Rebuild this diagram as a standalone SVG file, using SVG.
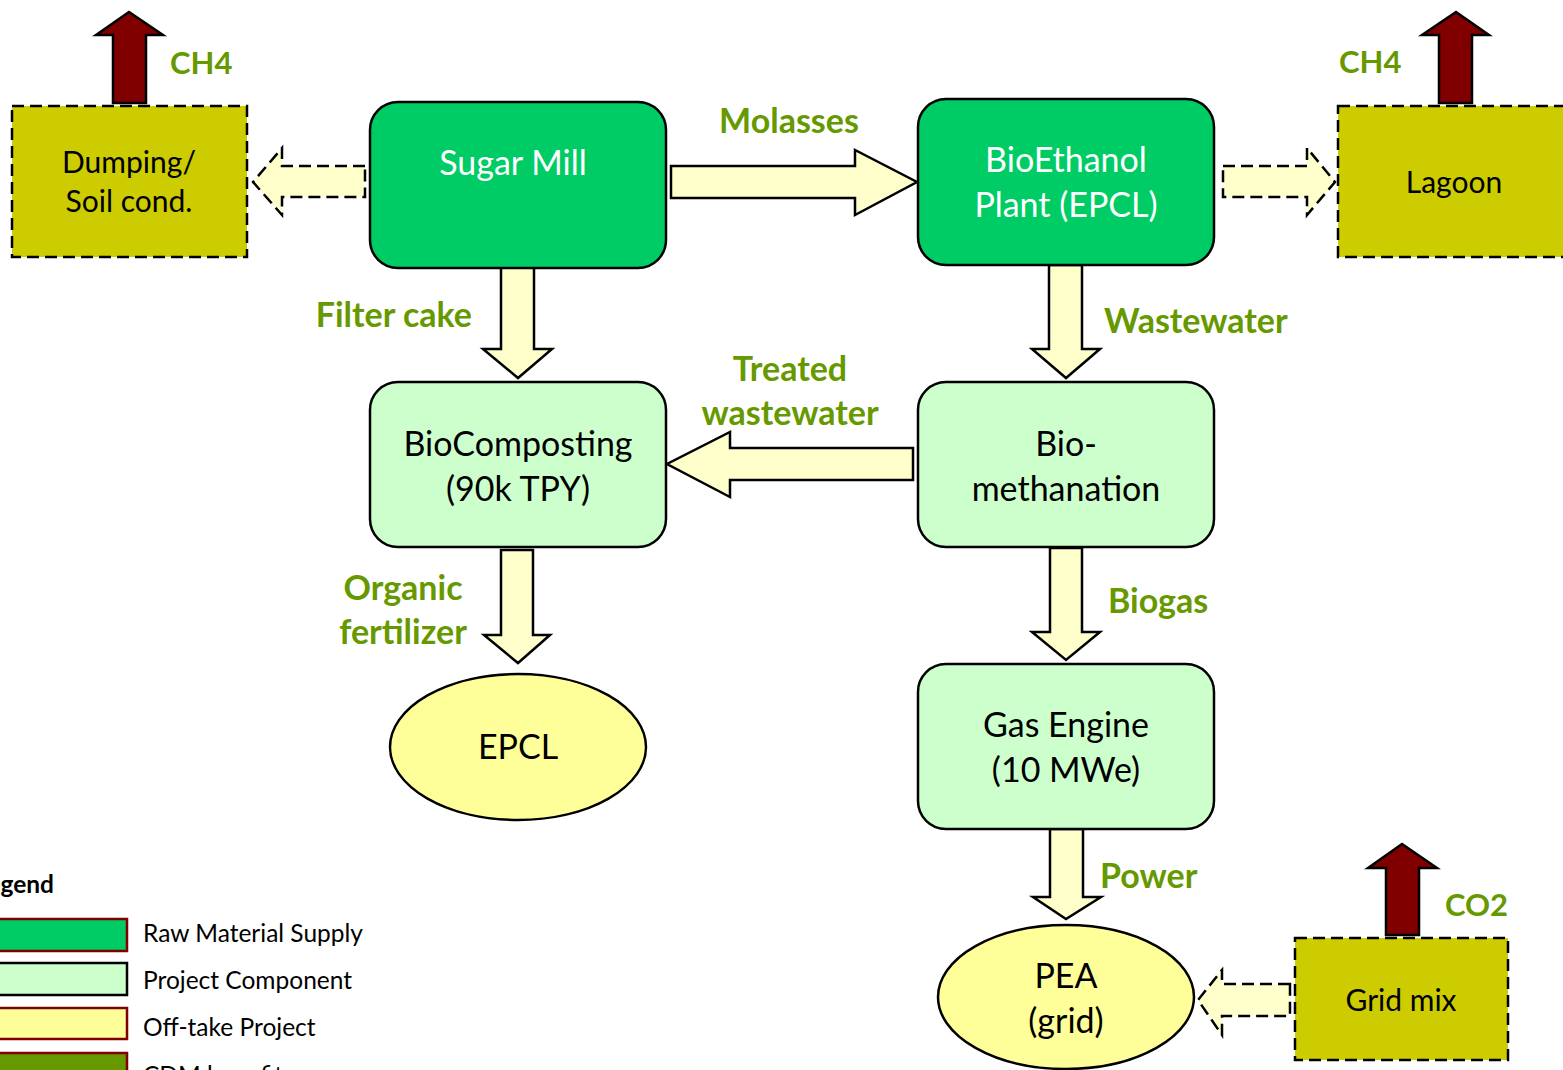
<svg xmlns="http://www.w3.org/2000/svg" width="1563" height="1070" viewBox="0 0 1563 1070">
<style>
.raw{fill:#00CC66;stroke:#000;stroke-width:2.5}
.proj{fill:#CCFFCC;stroke:#000;stroke-width:2.5}
.off{fill:#FFFF99;stroke:#000;stroke-width:2.5}
.base{fill:#CCCC00;stroke:#000;stroke-width:2.5;stroke-dasharray:12 6}
.arr{fill:#FFFFCC;stroke:#000;stroke-width:2.5;stroke-linejoin:miter}
.darr{fill:#FFFFCC;stroke:#000;stroke-width:2.5;stroke-dasharray:12 6}
.em{fill:#800000;stroke:#000;stroke-width:2.5}
.t{font-family:Lato,"Open Sans","Liberation Sans",sans-serif;font-size:34px;fill:#000;text-anchor:middle}
.tw{fill:#fff}
.ts{font-size:30px}
.lbl{font-family:Lato,"Open Sans","Liberation Sans",sans-serif;font-size:34px;font-weight:bold;fill:#669900}
.gas{font-size:31px}
.lg{font-family:Lato,"Open Sans","Liberation Sans",sans-serif;font-size:24.5px;fill:#000}
</style>
<rect width="1563" height="1070" fill="#fff"/>
<g id="connectors">
<path class="arr" d="M671,166 H855 V150 L917,182 L855,215 V198 H671 Z"/>
<path class="arr" d="M501,265 H534 V349 H552 L518,378 L483,349 H501 Z"/>
<path class="arr" d="M1049,265 H1082 V349 H1100 L1066,378 L1032,349 H1049 Z"/>
<path class="arr" d="M913,448 H730 V432 L667,464 L730,497 V480 H913 Z"/>
<path class="arr" d="M501,550 H533 V635 H550 L518,663 L484,635 H501 Z"/>
<path class="arr" d="M1050,548 H1082 V632 H1100 L1066,660 L1032,632 H1050 Z"/>
<path class="arr" d="M1050,829 H1083 V897 H1101 L1066,919 L1033,897 H1050 Z"/>
<path class="darr" d="M365,166 H282 V148 L253,182 L282,215 V197 H365 Z"/>
<path class="darr" d="M1223,166 H1307 V148 L1335,182 L1307,215 V197 H1223 Z"/>
<path class="darr" d="M1290,984 H1222 V970 L1198,1000 L1222,1035 V1016 H1290 Z"/>
<path class="em" d="M113,103 V35 H96 L129,12 L163,35 H146 V103 Z"/>
<path class="em" d="M1439,103 V35 H1422 L1456,12 L1489,35 H1472 V103 Z"/>
<path class="em" d="M1386,935 V868 H1368 L1402,844 L1437,868 H1419 V935 Z"/>
</g>
<g id="labels">
<text class="lbl gas" x="170" y="74">CH4</text>
<text class="lbl gas" x="1339" y="73">CH4</text>
<text class="lbl gas" x="1445" y="916">CO2</text>
<text class="lbl" x="789" y="133" text-anchor="middle">Molasses</text>
<text class="lbl" x="472" y="327" text-anchor="end">Filter cake</text>
<text class="lbl" x="1104" y="333">Wastewater</text>
<text class="lbl" x="790" y="381" text-anchor="middle">Treated</text>
<text class="lbl" x="790" y="425" text-anchor="middle">wastewater</text>
<text class="lbl" x="403" y="600" text-anchor="middle">Organic</text>
<text class="lbl" x="403" y="644" text-anchor="middle">fertilizer</text>
<text class="lbl" x="1108" y="613">Biogas</text>
<text class="lbl" x="1100" y="888">Power</text>
</g>
<g id="dumping">
<rect class="base" x="12" y="106" width="235" height="151"/>
<text class="t ts" x="129" y="173">Dumping/</text>
<text class="t ts" x="129" y="212">Soil cond.</text>
</g>
<g id="lagoon">
<rect class="base" x="1338" y="106" width="240" height="151"/>
<text class="t ts" x="1454" y="193">Lagoon</text>
</g>
<g id="sugar-mill">
<rect class="raw" x="370" y="102" width="296" height="166" rx="28"/>
<text class="t tw" x="513" y="175">Sugar Mill</text>
</g>
<g id="bioethanol">
<rect class="raw" x="918" y="99" width="296" height="166" rx="28"/>
<text class="t tw" x="1066" y="172">BioEthanol</text>
<text class="t tw" x="1066" y="217">Plant (EPCL)</text>
</g>
<g id="biocomposting">
<rect class="proj" x="370" y="382" width="296" height="165" rx="28"/>
<text class="t" x="518" y="456">BioComposting</text>
<text class="t" x="518" y="501">(90k TPY)</text>
</g>
<g id="biomethanation">
<rect class="proj" x="918" y="382" width="296" height="165" rx="28"/>
<text class="t" x="1066" y="456">Bio-</text>
<text class="t" x="1066" y="501">methanation</text>
</g>
<g id="epcl">
<ellipse class="off" cx="518" cy="747" rx="128" ry="73"/>
<text class="t" x="518" y="759">EPCL</text>
</g>
<g id="gas-engine">
<rect class="proj" x="918" y="664" width="296" height="165" rx="28"/>
<text class="t" x="1066" y="737">Gas Engine</text>
<text class="t" x="1066" y="782">(10 MWe)</text>
</g>
<g id="pea">
<ellipse class="off" cx="1066" cy="997" rx="128" ry="72"/>
<text class="t" x="1066" y="988">PEA</text>
<text class="t" x="1066" y="1033">(grid)</text>
</g>
<g id="grid-mix">
<rect class="base" x="1295" y="938" width="213" height="122"/>
<text class="t ts" x="1401" y="1011">Grid mix</text>
</g>
<g id="legend">
<text class="lg" x="54" y="893" text-anchor="end" font-weight="bold">Legend</text>
<rect x="-10" y="919" width="137" height="32" fill="#00CC66" stroke="#800000" stroke-width="2.5"/>
<rect x="-10" y="963" width="137" height="32" fill="#CCFFCC" stroke="#000" stroke-width="2.5"/>
<rect x="-10" y="1008" width="137" height="31" fill="#FFFF99" stroke="#800000" stroke-width="2.5"/>
<rect x="-10" y="1053" width="137" height="31" fill="#669900" stroke="#800000" stroke-width="2.5"/>
<text class="lg" x="143" y="942">Raw Material Supply</text>
<text class="lg" x="143" y="989">Project Component</text>
<text class="lg" x="143" y="1036">Off-take Project</text>
<text class="lg" x="143" y="1084">CDM benefit</text>
</g>
</svg>
